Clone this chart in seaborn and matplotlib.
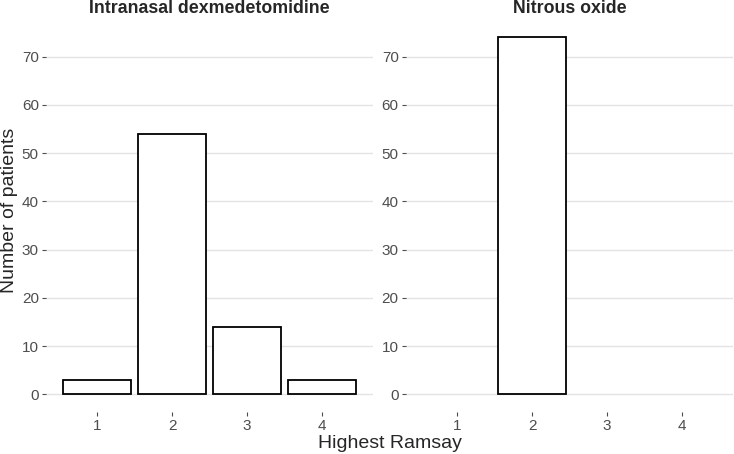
import pandas as pd
import matplotlib
matplotlib.use("Agg")
import matplotlib.pyplot as plt
import seaborn as sns

# Highest Ramsay score reached, counts of patients per arm
ramsay_levels = [1, 2, 3, 4]
dex_ramsay = [1, 2, 3, 4]
dex_counts = [3, 54, 14, 3]
n2o_ramsay = [2]
n2o_counts = [74]
panel_titles = ["Intranasal dexmedetomidine", "Nitrous oxide"]
y_ticks = [0, 10, 20, 30, 40, 50, 60, 70]

sns.set_theme(style="white")
plt.rcParams["font.family"] = ["Liberation Sans", "DejaVu Sans"]

dex_df = pd.DataFrame({"ramsay": dex_ramsay, "count": dex_counts})
n2o_df = pd.DataFrame({"ramsay": n2o_ramsay, "count": n2o_counts})

fig = plt.figure(figsize=(7.34, 4.54), dpi=100)
ax1 = fig.add_axes([0.0623, 0.0923, 0.4463, 0.8645])
ax2 = fig.add_axes([0.5527, 0.0923, 0.4463, 0.8645])

ymax = max(dex_counts + n2o_counts)
for ax, df, title in zip([ax1, ax2], [dex_df, n2o_df], panel_titles):
    sns.barplot(data=df, x="ramsay", y="count", order=ramsay_levels,
                color="white", edgecolor="black", linewidth=1.3,
                width=0.91, saturation=1, ax=ax)
    ax.set_xlim(-0.69, 3.69)
    ax.set_ylim(-0.05 * ymax, 1.05 * ymax)
    ax.set_yticks(y_ticks)
    ax.set_xlabel("")
    ax.set_ylabel("")
    # strip title, baseline sits ~13px below the top edge
    pos = ax.get_position()
    fig.text(pos.x0 + pos.width / 2, 1 - 13.3 / 454, title, ha="center",
             va="baseline", fontsize=12.8, fontweight="bold")
    ax.yaxis.grid(True, color="#e3e3e3", linewidth=1.0)
    ax.xaxis.grid(False)
    ax.set_axisbelow(True)
    for s in ax.spines.values():
        s.set_visible(False)
    ax.tick_params(axis="both", labelsize=11, labelcolor="#4d4d4d",
                   color="#4d4d4d", length=3, width=0.8, pad=2,
                   left=True, bottom=True)
    ax.tick_params(axis="x", pad=2)

fig.text(0.531, 0.024, "Highest Ramsay", ha="center", va="center", fontsize=14)
fig.text(0.013, 0.537, "Number of patients", ha="center", va="center",
         rotation=90, fontsize=14)

fig.savefig("out.png", dpi=100)
